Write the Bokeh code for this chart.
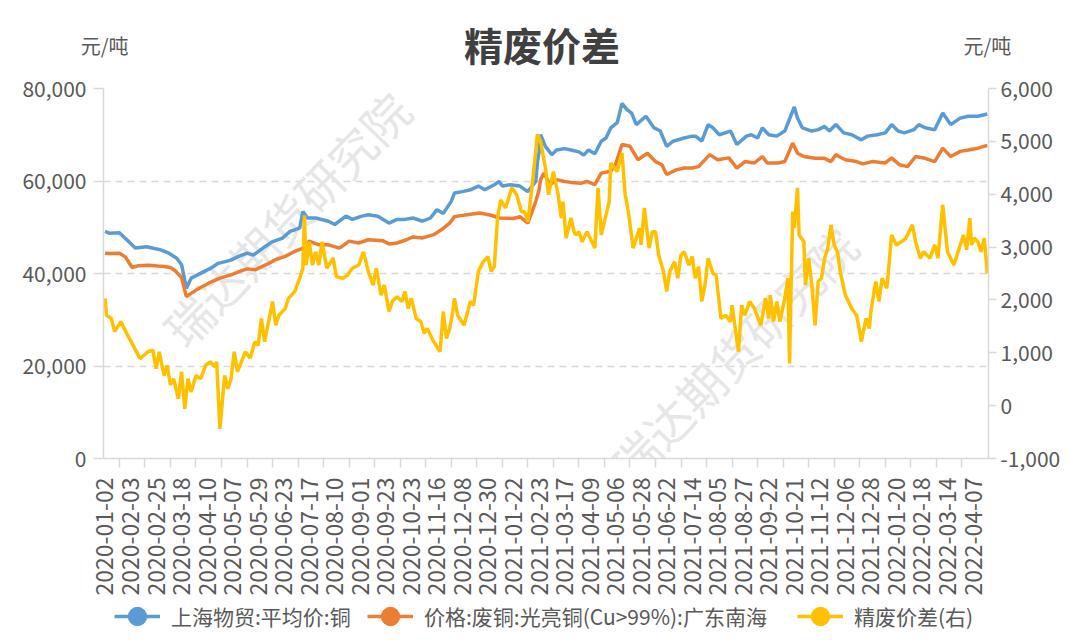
import math
from bokeh.plotting import figure
from bokeh.layouts import column
from bokeh.models import (Range1d, LinearAxis, FixedTicker, NumeralTickFormatter,
                          Label, Legend, LegendItem)
from bokeh.embed import file_html
from bokeh.resources import INLINE

FONT = "Noto Sans CJK SC"

# x = trading-day index counted from 2020-01-02 (one category per trading day)
date_ticks = ["2020-01-02", "2020-02-03", "2020-02-25", "2020-03-18", "2020-04-10",
              "2020-05-07", "2020-05-29", "2020-06-23", "2020-07-17", "2020-08-10",
              "2020-09-01", "2020-09-23", "2020-10-23", "2020-11-16", "2020-12-08",
              "2020-12-30", "2021-01-22", "2021-02-23", "2021-03-17", "2021-04-09",
              "2021-05-06", "2021-05-28", "2021-06-22", "2021-07-14", "2021-08-05",
              "2021-08-27", "2021-09-22", "2021-10-21", "2021-11-12", "2021-12-06",
              "2021-12-28", "2022-01-20", "2022-02-18", "2022-03-14", "2022-04-07"]
TICK_EVERY = 16

title_text = "精废价差"
unit_text = "元/吨"
watermark_text = "瑞达期货研究院"
series_names = ["上海物贸:平均价:铜", "价格:废铜:光亮铜(Cu>99%):广东南海", "精废价差(右)"]
series_colors = ["#5B9BD5", "#ED7D31", "#FFC000"]

# 上海物贸:平均价:铜 (left axis)
cu_idx = [0, 3, 9, 14, 19, 26, 31, 35, 40, 45,
          48, 51, 54, 58, 66, 71, 79, 83, 89, 93,
          99, 105, 111, 116, 122, 124, 127, 132, 140, 144,
          151, 155, 161, 165, 171, 178, 183, 188, 193, 199,
          204, 208, 212, 217, 219, 224, 229, 234, 238, 244,
          247, 249, 254, 260, 265, 270, 271, 272, 273, 276,
          280, 283, 288, 292, 297, 300, 303, 307, 311, 314,
          317, 321, 324, 327, 330, 333, 339, 344, 348, 352,
          356, 363, 368, 370, 374, 378, 381, 385, 392, 396,
          402, 405, 409, 412, 416, 421, 426, 432, 434, 437,
          443, 447, 451, 454, 458, 463, 468, 474, 478, 484,
          489, 493, 497, 501, 507, 510, 514, 520, 525, 530,
          536, 541, 547, 553]
cu_val = [49100, 48700, 48800, 47200, 45500, 45800, 45400, 45100, 44400, 43300,
          41900, 36800, 39000, 39700, 41100, 42200, 42900, 43600, 44400, 44000,
          45500, 46900, 47600, 49100, 49800, 53400, 52000, 52000, 51300, 50600,
          52400, 51700, 52400, 52700, 52400, 50900, 51700, 51700, 52000, 51300,
          52000, 53800, 53000, 55600, 57400, 57700, 58100, 58900, 58100, 59200,
          59900, 58900, 59200, 58900, 57700, 59900, 64000, 66100, 70000, 67500,
          65700, 66700, 67000, 66700, 66300, 65600, 66700, 65900, 68600, 69300,
          71500, 72600, 76800, 75500, 74700, 72200, 74000, 71500, 70800, 67500,
          68600, 69300, 69700, 69700, 68600, 72200, 71500, 70000, 70800, 67900,
          69700, 70000, 69300, 71500, 70000, 69700, 70800, 76000, 73600, 71500,
          70800, 71100, 71800, 70800, 72200, 70400, 70000, 68900, 69700, 70000,
          70400, 72200, 70800, 70400, 71100, 72200, 71500, 71100, 74700, 72200,
          73600, 74000, 74000, 74500]

# 价格:废铜:光亮铜(Cu>99%):广东南海 (left axis)
sc_idx = [0, 3, 9, 13, 17, 21, 27, 33, 37, 41,
          44, 48, 51, 54, 59, 65, 72, 79, 84, 89,
          94, 101, 107, 113, 119, 124, 128, 134, 140, 147,
          153, 159, 165, 174, 178, 183, 189, 193, 199, 206,
          211, 216, 219, 229, 235, 242, 247, 256, 260, 265,
          270, 272, 273, 275, 279, 283, 288, 292, 298, 302,
          307, 311, 317, 320, 324, 329, 334, 340, 345, 349,
          352, 358, 363, 368, 372, 379, 384, 391, 396, 401,
          407, 412, 415, 422, 426, 431, 434, 438, 445, 451,
          455, 458, 460, 464, 471, 475, 481, 489, 493, 498,
          503, 508, 514, 520, 525, 530, 536, 541, 547, 553]
sc_val = [44400, 44300, 44400, 43500, 41300, 41700, 41800, 41600, 41500, 41300,
          40600, 39100, 35000, 35700, 36800, 37900, 39000, 39700, 40400, 41000,
          40800, 41900, 43000, 43700, 44800, 45500, 47000, 46200, 46200, 45500,
          47000, 46600, 47300, 47100, 46400, 46600, 47300, 47900, 47700, 48400,
          49500, 50900, 52300, 52800, 53100, 52600, 52000, 51900, 52300, 50900,
          55600, 58000, 60300, 61700, 59200, 60300, 59900, 59700, 59500, 59900,
          59200, 61700, 62100, 63600, 67900, 67500, 64600, 66000, 64200, 63500,
          61400, 62400, 62800, 62800, 63100, 65700, 64600, 65000, 62800, 64200,
          63900, 65300, 63900, 63900, 64200, 68200, 66000, 65300, 64900, 64900,
          64200, 65700, 65300, 64600, 64200, 63700, 64200, 63900, 65000, 63500,
          63100, 65300, 64900, 64200, 67100, 65300, 66400, 66700, 67100, 67700]

# 精废价差(右) (right axis)
sp_idx = [0, 1, 4, 6, 10, 13, 22, 27, 30, 32, 34, 37, 39, 41, 43, 46, 48, 50, 52, 54,
          57, 60, 63, 66, 69, 70, 72, 75, 77, 79, 81, 83, 88, 91, 94, 96, 98, 100, 103, 105,
          107, 109, 113, 115, 119, 122, 124, 125, 126, 128, 130, 132, 134, 136, 139, 143, 145, 149, 152, 155,
          159, 162, 165, 168, 170, 173, 175, 178, 180, 183, 186, 188, 190, 192, 195, 198, 200, 202, 206, 210,
          212, 214, 216, 218, 219, 221, 225, 229, 231, 234, 237, 240, 242, 244, 246, 248, 251, 255, 258, 261,
          263, 265, 268, 271, 273, 276, 278, 281, 284, 286, 287, 289, 292, 294, 295, 297, 299, 302, 304, 307,
          309, 311, 314, 316, 317, 321, 324, 326, 328, 331, 335, 336, 338, 341, 343, 345, 347, 350, 352, 354,
          357, 359, 361, 363, 366, 368, 370, 372, 374, 376, 378, 381, 383, 386, 389, 392, 393, 395, 397, 399,
          401, 404, 407, 411, 414, 416, 417, 419, 421, 423, 426, 428, 429, 431, 432, 434, 435, 438, 439, 441,
          443, 445, 447, 449, 451, 453, 455, 457, 459, 461, 464, 468, 471, 473, 474, 477, 479, 480, 483, 485,
          487, 490, 493, 496, 499, 502, 506, 508, 511, 513, 517, 520, 522, 525, 528, 532, 536, 538, 540, 542,
          543, 545, 547, 549, 551, 553]
sp_val = [2030, 1710, 1650, 1400, 1590, 1400, 890, 1020, 1050, 700, 1020, 570, 760, 390, 510, 130, 640, -60, 510, 260,
          570, 510, 760, 830, 730, 830, -440, 570, 320, 510, 1020, 640, 1020, 900, 1210, 1140, 1650, 1210, 1650, 1970,
          1520, 1710, 1840, 2030, 2160, 2410, 2600, 3600, 2660, 3100, 2660, 2910, 2660, 3100, 2600, 2790, 2440, 2410, 2470, 2600,
          2660, 2910, 2540, 2280, 2600, 2090, 2280, 1780, 1970, 2060, 1970, 2160, 1840, 2030, 1650, 1590, 1370, 1460, 1210, 1020,
          1780, 1270, 1460, 1780, 2030, 1710, 1520, 1970, 1900, 2540, 2720, 2820, 2540, 2630, 3550, 3890, 3740, 4120, 3990, 3670,
          3670, 3480, 4240, 5130, 5000, 4500, 3990, 4430, 3990, 3550, 3860, 3170, 3550, 3290, 3230, 3290, 3100, 3290, 3170, 2980,
          4120, 3230, 3610, 3860, 4590, 4430, 4780, 3990, 3670, 2980, 3360, 3040, 3740, 2980, 3290, 3290, 2850, 2540, 2160, 2540,
          2720, 2410, 2850, 2910, 2660, 2820, 2410, 2630, 1970, 2280, 2790, 2500, 2470, 1650, 1710, 1590, 1900, 1460, 1020, 1900,
          1710, 1970, 1840, 1520, 2030, 1650, 2090, 1590, 1970, 1590, 2030, 2410, 800, 3670, 3360, 4120, 3230, 3100, 2280, 2790,
          2280, 1520, 2350, 2410, 2790, 2980, 3420, 3040, 2910, 2500, 2090, 1840, 1710, 1400, 1210, 1650, 1460, 1780, 2350, 1970,
          2410, 2220, 3230, 3040, 3100, 3170, 3420, 3100, 2790, 2910, 2790, 3040, 2790, 3800, 2910, 2660, 3040, 3230, 2950, 3550,
          3040, 3170, 3100, 2910, 3170, 2500]

assert len(cu_idx) == len(cu_val) and len(sc_idx) == len(sc_val) and len(sp_idx) == len(sp_val)

GRID = "#d9d9d9"
TXT = "#595959"
W = 1063
HEAD_H, MAIN_H, LEG_H = 72, 526, 34
FRAME_L, FRAME_R = 103, 991   # frames of the stacked figures are aligned by the column layout


def strip(height):
    f = figure(width=W, height=height, output_backend="svg", toolbar_location=None,
               x_range=Range1d(FRAME_L, FRAME_R), y_range=Range1d(height, 0),
               x_axis_location=None, y_axis_location=None, min_border=0)
    f.grid.visible = False
    f.outline_line_color = None
    return f


# ---- header: title and units ----
head = strip(HEAD_H)
head.add_layout(Label(x=543, y=43.5, text=title_text, text_align="center", text_baseline="middle",
                      text_font=FONT, text_font_size="39px", text_font_style="bold",
                      text_color="#404040"))
for side in ("left", "right"):
    ua = LinearAxis(ticker=FixedTicker(ticks=[45]), major_label_overrides={45: unit_text})
    ua.axis_line_color = None
    ua.major_tick_line_color = None
    ua.minor_tick_line_color = None
    ua.major_tick_out = 0
    ua.major_tick_in = 0
    ua.major_label_standoff = -25
    ua.major_label_text_font = FONT
    ua.major_label_text_font_size = "20px"
    ua.major_label_text_color = TXT
    head.add_layout(ua, side)

# ---- main chart ----
p = figure(width=W, height=MAIN_H, output_backend="svg", toolbar_location=None,
           x_range=Range1d(-0.94, 553.7), y_range=Range1d(0, 80000),
           min_border_left=FRAME_L, min_border_right=W - FRAME_R, min_border_top=16,
           min_border_bottom=140)
p.extra_y_ranges = {"right": Range1d(-1000, 6000)}
p.outline_line_color = None

xa = p.xaxis[0]
xa.ticker = FixedTicker(ticks=[k * TICK_EVERY for k in range(len(date_ticks))],
                        minor_ticks=[k * TICK_EVERY + 9 for k in range(len(date_ticks) - 1)])
xa.major_label_overrides = {k * TICK_EVERY: d for k, d in enumerate(date_ticks)}
xa.major_label_orientation = math.pi / 2
xa.major_tick_line_color = None
xa.major_tick_out = 0
xa.major_tick_in = 0
xa.minor_tick_line_color = GRID
xa.minor_tick_line_width = 1.5
xa.minor_tick_out = 9
xa.minor_tick_in = 0
xa.major_label_standoff = 10
xa.major_label_text_font = FONT
xa.major_label_text_font_size = "23px"
xa.major_label_text_color = TXT
xa.axis_line_color = GRID
xa.axis_line_width = 1.5

ya = p.yaxis[0]
ya.ticker = FixedTicker(ticks=[0, 20000, 40000, 60000, 80000])
ya.formatter = NumeralTickFormatter(format="0,0")
ya.major_tick_line_color = GRID
ya.major_tick_line_width = 1.5
ya.major_tick_out = 10
ya.major_tick_in = 0
ya.minor_tick_line_color = None
ya.major_label_standoff = 7
ya.major_label_text_font = FONT
ya.major_label_text_font_size = "21px"
ya.major_label_text_color = TXT
ya.axis_line_color = GRID
ya.axis_line_width = 1.5

yr = LinearAxis(y_range_name="right",
                ticker=FixedTicker(ticks=[-1000, 0, 1000, 2000, 3000, 4000, 5000, 6000]),
                formatter=NumeralTickFormatter(format="0,0"))
yr.major_tick_line_color = GRID
yr.major_tick_line_width = 1.5
yr.major_tick_out = 8
yr.major_tick_in = 0
yr.minor_tick_line_color = None
yr.major_label_standoff = 4
yr.major_label_text_font = FONT
yr.major_label_text_font_size = "21px"
yr.major_label_text_color = TXT
yr.axis_line_color = GRID
yr.axis_line_width = 1.5
p.add_layout(yr, "right")

p.xgrid.visible = False
p.ygrid.ticker = FixedTicker(ticks=[20000, 40000, 60000, 80000])
p.ygrid.grid_line_color = GRID
p.ygrid.grid_line_width = 1.5
p.ygrid.grid_line_dash = "7 5"

for wx, wy in [(113.4, 51900), (393.5, 22530)]:
    p.add_layout(Label(x=wx, y=wy, text=watermark_text, angle=46, angle_units="deg",
                       text_align="center", text_baseline="middle", text_font=FONT,
                       text_font_size="47px", text_color="#e6e6e6", level="underlay"))

p.line(cu_idx, cu_val, line_color=series_colors[0], line_width=3.5)
p.line(sc_idx, sc_val, line_color=series_colors[1], line_width=3.5)
p.line(sp_idx, sp_val, line_color=series_colors[2], line_width=3.5, y_range_name="right")

# ---- legend strip (swatch renderers sit far outside the visible range) ----
leg = strip(LEG_H)
leg.y_range = Range1d(0, LEG_H)
for name, col, lx in zip(series_names, series_colors, (11, 264, 694)):
    lr = leg.line(x=[-5000, -4999], y=[0, 0], line_color=col, line_width=3.5)
    dr = leg.scatter(x=[-5000], y=[0], size=18, marker="circle", fill_color=col, line_color=col)
    leg.add_layout(Legend(items=[LegendItem(label=name, renderers=[lr, dr])], location=(lx, -7),
                          orientation="horizontal", glyph_width=46, glyph_height=46,
                          label_standoff=11, padding=0, margin=0, spacing=0,
                          border_line_color=None, background_fill_alpha=0,
                          label_text_font=FONT, label_text_font_size="21px",
                          label_text_color=TXT))

layout = column(head, p, leg, spacing=0)
open("out.html", "w").write(file_html(layout, INLINE))
